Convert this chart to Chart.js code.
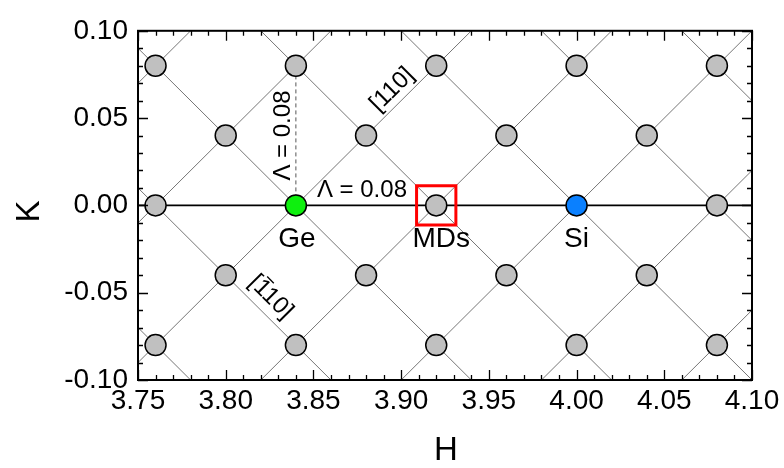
<!DOCTYPE html>
<html>
<head>
<meta charset="utf-8">
<script src="https://cdn.jsdelivr.net/npm/chart.js@4.4.0/dist/chart.umd.min.js"></script>
<style>
  html, body { margin: 0; padding: 0; background: #fff; }
  canvas { display: block; }
</style>
</head>
<body>
<canvas id="latticeChart" width="784" height="468"></canvas>
<script>
// lattice rows (K) and the H positions used by even / odd rows
const rowK = [0.08, 0.04, 0, -0.04, -0.08];
const evenRowH = [3.76, 3.84, 3.92, 4.00, 4.08];
const oddRowH = [3.80, 3.88, 3.96, 4.04];
// diagonal lines H - K = c and H + K = c
const diagOffsets = [3.68, 3.76, 3.84, 3.92, 4.00, 4.08, 4.16];
// peaks
const gePeak = { h: 3.84, k: 0 };
const siPeak = { h: 4.00, k: 0 };
const mdPeak = { h: 3.92, k: 0 };
const lambda = 0.08;
// axes
const hRange = [3.75, 4.10];
const kRange = [-0.10, 0.10];
const hTicks = [3.75, 3.80, 3.85, 3.90, 3.95, 4.00, 4.05, 4.10];
const kTicks = [-0.10, -0.05, 0.00, 0.05, 0.10];
const minorStep = 0.01;

const FONT = "'Liberation Sans', Arial, sans-serif";

// gray lattice points (Ge and Si sit on their own datasets)
const latticePts = [];
rowK.forEach(function (k, i) {
  const hs = i % 2 === 0 ? evenRowH : oddRowH;
  hs.forEach(function (h) {
    const isGe = Math.abs(h - gePeak.h) < 1e-6 && Math.abs(k - gePeak.k) < 1e-6;
    const isSi = Math.abs(h - siPeak.h) < 1e-6 && Math.abs(k - siPeak.k) < 1e-6;
    if (!isGe && !isSi) latticePts.push({ x: h, y: k });
  });
});

function lineSet(data, color, width, dash) {
  return {
    type: "scatter",
    data: data,
    showLine: true,
    borderColor: color,
    borderWidth: width,
    borderDash: dash || [],
    pointRadius: 0,
    order: 5,
  };
}

var datasets = [];
diagOffsets.forEach(function (c) {
  datasets.push(lineSet([{ x: c + kRange[0], y: kRange[0] }, { x: c + kRange[1], y: kRange[1] }], "#767676", 1));
  datasets.push(lineSet([{ x: c - kRange[0], y: kRange[0] }, { x: c - kRange[1], y: kRange[1] }], "#767676", 1));
});
// K = 0 line and the dashed Lambda marker
datasets.push(lineSet([{ x: hRange[0], y: 0 }, { x: hRange[1], y: 0 }], "#000", 1.6));
var dashed = lineSet([{ x: gePeak.h, y: 0 }, { x: gePeak.h, y: lambda }], "#555", 1, [4, 3]);
dashed.order = 4;
datasets.push(dashed);

function pointSet(data, fill) {
  return {
    type: "scatter",
    data: data,
    pointRadius: 10.5,
    pointBackgroundColor: fill,
    pointBorderColor: "#000",
    pointBorderWidth: 1.5,
    order: 1,
  };
}
datasets.push(pointSet(latticePts, "#c0c0c0"));
datasets.push(pointSet([{ x: gePeak.h, y: gePeak.k }], "#0ef00e"));
datasets.push(pointSet([{ x: siPeak.h, y: siPeak.k }], "#0a80ff"));
// red box around the misfit dislocation peak
datasets.push({
  type: "scatter",
  data: [{ x: mdPeak.h, y: mdPeak.k }],
  pointStyle: "rect",
  pointRadius: 27.8,
  pointBackgroundColor: "rgba(0,0,0,0)",
  pointBorderColor: "#ff0000",
  pointBorderWidth: 3,
  order: 0,
});

// frame, inward ticks and annotations
const framePlugin = {
  id: "frame",
  afterDraw: function (chart) {
    const ctx = chart.ctx;
    const a = chart.chartArea;
    const xs = chart.scales.x, ys = chart.scales.y;
    ctx.save();
    ctx.strokeStyle = "#000";
    ctx.lineWidth = 2;
    ctx.strokeRect(a.left, a.top, a.right - a.left, a.bottom - a.top);

    ctx.lineWidth = 1.3;
    ctx.beginPath();
    const nH = Math.round((hRange[1] - hRange[0]) / minorStep);
    for (let i = 0; i <= nH; i++) {
      const px = Math.round(xs.getPixelForValue(hRange[0] + i * minorStep)) + 0.5;
      const len = i % 5 === 0 ? 10 : 5;
      ctx.moveTo(px, a.bottom); ctx.lineTo(px, a.bottom - len);
      ctx.moveTo(px, a.top); ctx.lineTo(px, a.top + len);
    }
    const nK = Math.round((kRange[1] - kRange[0]) / minorStep);
    for (let i = 0; i <= nK; i++) {
      const py = Math.round(ys.getPixelForValue(kRange[0] + i * minorStep)) + 0.5;
      const len = i % 5 === 0 ? 10 : 5;
      ctx.moveTo(a.left, py); ctx.lineTo(a.left + len, py);
      ctx.moveTo(a.right, py); ctx.lineTo(a.right - len, py);
    }
    ctx.stroke();

    ctx.fillStyle = "#000";
    // axis titles
    ctx.font = "33px " + FONT;
    ctx.textAlign = "center";
    ctx.textBaseline = "middle";
    ctx.fillText("H", (a.left + a.right) / 2 + 1, 451);
    ctx.save();
    ctx.translate(30, (a.top + a.bottom) / 2 + 6);
    ctx.rotate(-Math.PI / 2);
    ctx.fillText("K", 0, 0);
    ctx.restore();

    // peak names
    const y0 = ys.getPixelForValue(0);
    ctx.font = "28px " + FONT;
    ctx.textBaseline = "alphabetic";
    ctx.fillText("Ge", xs.getPixelForValue(gePeak.h) + 1, y0 + 42);
    ctx.fillText("MDs", xs.getPixelForValue(mdPeak.h) + 5, y0 + 42);
    ctx.fillText("Si", xs.getPixelForValue(siPeak.h), y0 + 42);

    // Lambda spacing labels
    ctx.font = "24px " + FONT;
    ctx.textAlign = "left";
    ctx.fillText("\u039b = 0.08", xs.getPixelForValue(gePeak.h) + 21, y0 - 8);
    ctx.save();
    ctx.translate(xs.getPixelForValue(gePeak.h) - 6, ys.getPixelForValue(lambda / 2));
    ctx.rotate(-Math.PI / 2);
    ctx.textAlign = "center";
    ctx.fillText("\u039b = 0.08", 0, 0);
    ctx.restore();

    // direction labels
    ctx.textAlign = "center";
    ctx.textBaseline = "middle";
    ctx.save();
    ctx.translate(xs.getPixelForValue(3.90) - 9, ys.getPixelForValue(0.06) - 11);
    ctx.rotate(-Math.PI / 4);
    ctx.fillText("[110]", 0, 0);
    ctx.restore();

    ctx.save();
    ctx.translate(xs.getPixelForValue(3.82) + 10, ys.getPixelForValue(-0.06) - 13);
    ctx.rotate(Math.PI / 4);
    const txt = "[110]";
    const w = ctx.measureText(txt).width;
    ctx.fillText(txt, 0, 0);
    const x1 = -w / 2 + ctx.measureText("[").width;
    const x2 = x1 + ctx.measureText("1").width;
    ctx.lineWidth = 1.3;
    ctx.beginPath();
    ctx.moveTo(x1 + 2, -12);
    ctx.lineTo(x2 - 2, -12);
    ctx.stroke();
    ctx.restore();

    ctx.restore();
  },
};

new Chart(document.getElementById("latticeChart"), {
  type: "scatter",
  data: { datasets: datasets },
  options: {
    responsive: false,
    animation: false,
    events: [],
    layout: { padding: { top: 27, right: 32, left: 0, bottom: 0 } },
    plugins: { legend: { display: false }, tooltip: { enabled: false } },
    scales: {
      x: {
        type: "linear",
        min: hRange[0],
        max: hRange[1],
        afterBuildTicks: function (scale) {
          scale.ticks = hTicks.map(function (v) { return { value: v }; });
        },
        afterFit: function (scale) { scale.height = 88; },
        grid: { display: false, drawTicks: false },
        border: { display: false },
        ticks: {
          padding: 4,
          color: "#000",
          font: { family: FONT, size: 28 },
          maxRotation: 0,
          callback: function (v) { return Number(v).toFixed(2); },
        },
      },
      y: {
        type: "linear",
        min: kRange[0],
        max: kRange[1],
        afterBuildTicks: function (scale) {
          scale.ticks = kTicks.map(function (v) { return { value: v }; });
        },
        afterFit: function (scale) { scale.width = 138; },
        grid: { display: false, drawTicks: false },
        border: { display: false },
        ticks: {
          padding: 10,
          color: "#000",
          font: { family: FONT, size: 28 },
          callback: function (v) { return Number(v).toFixed(2); },
        },
      },
    },
  },
  plugins: [framePlugin],
});
</script>
</body>
</html>
